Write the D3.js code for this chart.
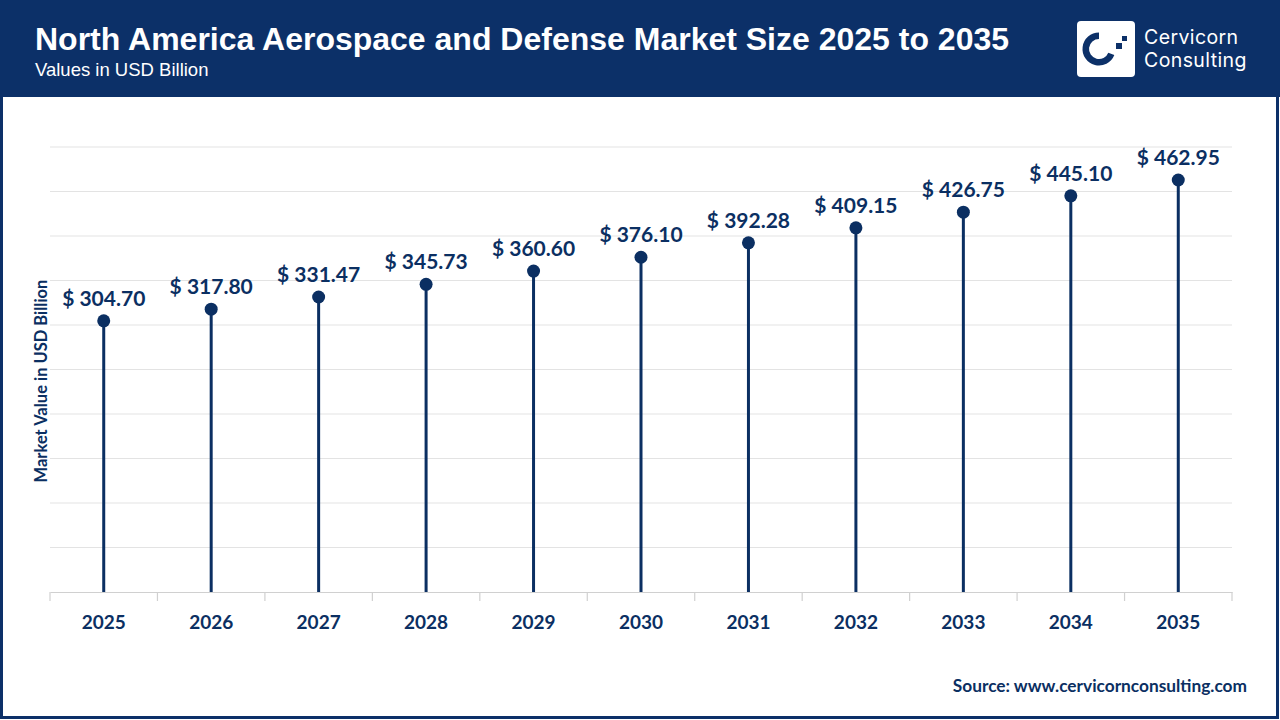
<!DOCTYPE html>
<html><head><meta charset="utf-8">
<script src="https://cdn.jsdelivr.net/npm/d3@7"></script>
<style>html,body{margin:0;padding:0;background:#fff;}svg{display:block;}</style>
</head><body>
<script>
const years = ["2025","2026","2027","2028","2029","2030","2031","2032","2033","2034","2035"];
const values = [304.70,317.80,331.47,345.73,360.60,376.10,392.28,409.15,426.75,445.10,462.95];
const yTicks = [0,50,100,150,200,250,300,350,400,450,500];
const title = "North America Aerospace and Defense Market Size 2025 to 2035";
const subtitle = "Values in USD Billion";
const yTitle = "Market Value in USD Billion";
const source = "Source: www.cervicornconsulting.com";

const W = 1280, H = 720;
const navy = "#0c3068", ink = "#0b2f62";
const svg = d3.select("body").append("svg").attr("width", W).attr("height", H);

svg.append("rect").attr("x",0).attr("y",0).attr("width",W).attr("height",H).attr("fill","#fff");
// header
svg.append("rect").attr("x",0).attr("y",0).attr("width",W).attr("height",97).attr("fill",navy);
// border
svg.append("rect").attr("x",1.5).attr("y",1.5).attr("width",W-4).attr("height",H-4)
  .attr("fill","none").attr("stroke",navy).attr("stroke-width",3);

svg.append("text").attr("x",35).attr("y",50).attr("fill","#fff")
  .attr("font-family","Liberation Sans, Arial, sans-serif").attr("font-weight","bold").attr("font-size",32)
  .text(title);
svg.append("text").attr("x",35).attr("y",76).attr("fill","#fff")
  .attr("font-family","Liberation Sans, Arial, sans-serif").attr("font-size",18.5)
  .text(subtitle);

// logo
const lg = svg.append("g");
lg.append("rect").attr("x",1077).attr("y",21).attr("width",58).attr("height",56).attr("rx",4).attr("fill","#fff");
lg.append("path").attr("d", d3.arc()({innerRadius:10, outerRadius:16.5, startAngle:0.62*Math.PI, endAngle:2.0*Math.PI}))
  .attr("transform","translate(1099,49)").attr("fill",navy);
lg.append("rect").attr("x",1116).attr("y",43).attr("width",6).attr("height",6).attr("fill",navy);
lg.append("rect").attr("x",1122).attr("y",36).attr("width",5).attr("height",5).attr("fill",navy);
lg.append("text").attr("x",1144).attr("y",44).attr("fill","#fff").attr("font-family","Inter, Lato, sans-serif")
  .attr("font-size",19.5).attr("letter-spacing",0.4).text("Cervicorn");
lg.append("text").attr("x",1144).attr("y",67).attr("fill","#fff").attr("font-family","Inter, Lato, sans-serif")
  .attr("font-size",19.5).attr("letter-spacing",0.4).text("Consulting");

// scales
const x = d3.scaleBand().domain(years).range([50,1232]);
const y = d3.scaleLinear().domain([0,500]).range([592,147]);

// gridlines
svg.append("g").selectAll("line").data(yTicks.slice(1)).join("line")
  .attr("x1",50).attr("x2",1232).attr("y1",d=>y(d)).attr("y2",d=>y(d))
  .attr("stroke","#e3e3e3").attr("stroke-width",1);

// x axis
const xa = svg.append("g").attr("transform","translate(0,592)")
  .call(d3.axisBottom(x).tickSize(0).tickPadding(24));
xa.select(".domain").attr("stroke","#d0d0d0").attr("stroke-width",1.2);
xa.selectAll("text").attr("font-family","Lato, sans-serif").attr("font-weight","bold")
  .attr("font-size",19).attr("fill",ink);
// band boundary ticks
const bounds = years.map(d=>x(d)).concat([x.range()[1]]);
svg.append("g").selectAll("line").data(bounds).join("line")
  .attr("x1",d=>d).attr("x2",d=>d).attr("y1",592).attr("y2",601)
  .attr("stroke","#d0d0d0").attr("stroke-width",1.2);

// y title
svg.append("text").attr("transform","translate(47,381) rotate(-90)").attr("text-anchor","middle")
  .attr("font-family","Lato, sans-serif").attr("font-weight","bold").attr("font-size",16.5).attr("fill",ink)
  .text(yTitle);

// lollipops
const g = svg.append("g");
const cx = d => x(d) + x.bandwidth()/2;
g.selectAll("line.stem").data(years).join("line").attr("class","stem")
  .attr("x1",cx).attr("x2",cx).attr("y1",y(0)).attr("y2",(d,i)=>y(values[i]))
  .attr("stroke",ink).attr("stroke-width",3);
g.selectAll("circle").data(years).join("circle")
  .attr("cx",cx).attr("cy",(d,i)=>y(values[i])).attr("r",6.5).attr("fill",ink);
g.selectAll("text").data(years).join("text")
  .attr("x",cx).attr("y",(d,i)=>y(values[i])-15).attr("text-anchor","middle")
  .attr("font-family","Lato, sans-serif").attr("font-weight","bold").attr("font-size",21).attr("fill",ink)
  .text((d,i)=>"$ " + values[i].toFixed(2));

// source
svg.append("text").attr("x",1247).attr("y",692).attr("text-anchor","end")
  .attr("font-family","Lato, sans-serif").attr("font-weight","bold").attr("font-size",17.3).attr("fill",ink)
  .text(source);
</script>
</body></html>
